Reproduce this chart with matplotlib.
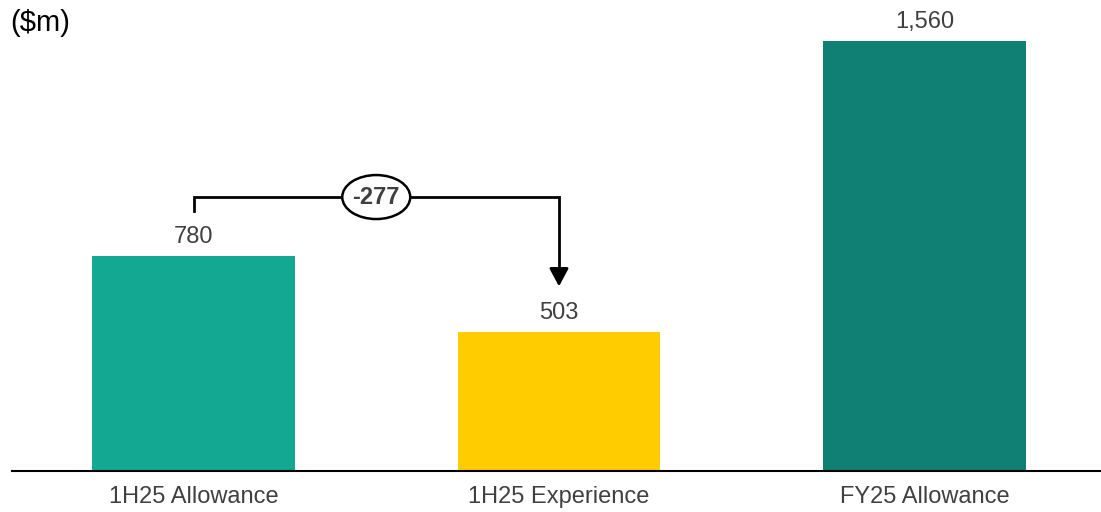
import matplotlib
matplotlib.use("Agg")
import matplotlib.pyplot as plt
from matplotlib.patches import Ellipse

# data
categories = ["1H25 Allowance", "1H25 Experience", "FY25 Allowance"]
values = [780, 503, 1560]
value_labels = ["780", "503", "1,560"]
bar_colors = ["#13A891", "#FFCC00", "#107F74"]
change_label = "-277"

plt.rcParams["font.family"] = ["Liberation Sans", "DejaVu Sans"]
text_gray = "#404040"

fig = plt.figure(figsize=(11.01, 5.12), dpi=100)
ax = fig.add_axes([12 / 1101, 41 / 512, 1 - 12 / 1101, 1 - 41 / 512])

x = list(range(len(categories)))
ax.bar(x, values, width=0.555, color=bar_colors, zorder=2)

ax.set_xlim(-0.4966, 2.483)
ax.set_ylim(0, 1709)

for xi, v, lab in zip(x, values, value_labels):
    ax.annotate(lab, (xi, v), xytext=(0, 6), textcoords="offset points",
                ha="center", va="bottom", fontsize=17, color=text_gray)

# bracket with arrow from bar 1 to bar 2
start_y = values[0] + 163
end_y = values[1] + 167
level_y = 994
ax.plot([x[0], x[0], x[1], x[1]], [start_y, level_y, level_y, end_y + 40],
        color="black", lw=2, solid_joinstyle="miter", zorder=3)
ax.annotate("", xy=(x[1], end_y), xytext=(x[1], end_y + 60),
            arrowprops=dict(arrowstyle="-|>,head_length=1.08,head_width=0.58",
                            color="black", lw=2, shrinkA=0, shrinkB=0), zorder=3)
mid = (x[0] + x[1]) / 2
ax.add_patch(Ellipse((mid, level_y), 68 / 365.5, 44 * 3.628,
                     facecolor="white", edgecolor="black", lw=1.8, zorder=4))
ax.text(mid, level_y, change_label, ha="center", va="center", fontsize=17,
        fontweight="bold", color=text_gray, zorder=5)

# axes styling
for s in ["top", "right", "left"]:
    ax.spines[s].set_visible(False)
ax.spines["bottom"].set_linewidth(1.5)
ax.spines["bottom"].set_color("black")
ax.set_yticks([])
ax.set_xticks(x)
ax.set_xticklabels(categories, fontsize=17, color=text_gray)
ax.tick_params(axis="x", length=0, pad=11)

fig.text(10 / 1101, 1 - 23 / 512, "($m)", ha="left", va="center",
         fontsize=21, color="black")

fig.savefig("out.png", dpi=100)
